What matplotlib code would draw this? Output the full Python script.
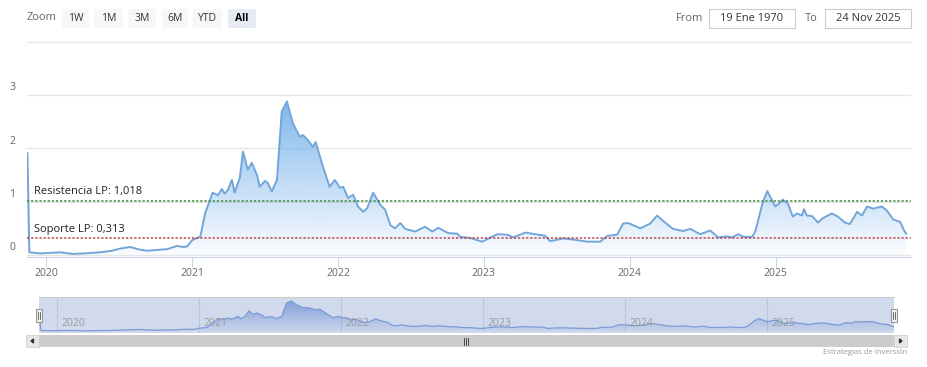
import matplotlib
matplotlib.use("Agg")
import matplotlib.pyplot as plt
import matplotlib.dates as mdates
import matplotlib.colors as mcolors
from matplotlib.patches import Rectangle, FancyBboxPatch
import numpy as np
import pandas as pd

plt.rcParams['font.family'] = ['Open Sans', 'DejaVu Sans']

dates = ["2019-11-15", "2019-11-20", "2019-12-17", "2020-02-05", "2020-03-08", "2020-04-07",
         "2020-05-15", "2020-06-14", "2020-07-04", "2020-07-29", "2020-08-23", "2020-09-10",
         "2020-10-12", "2020-10-30", "2020-11-24", "2020-12-09", "2020-12-19", "2021-01-01",
         "2021-01-13", "2021-01-21", "2021-02-02", "2021-02-14", "2021-02-21", "2021-03-06",
         "2021-03-16", "2021-03-23", "2021-03-31", "2021-04-10", "2021-04-17", "2021-04-30",
         "2021-05-08", "2021-05-20", "2021-05-30", "2021-06-12", "2021-06-19", "2021-07-02",
         "2021-07-09", "2021-07-19", "2021-08-01", "2021-08-13", "2021-08-26", "2021-09-10",
         "2021-09-27", "2021-10-05", "2021-10-17", "2021-10-30", "2021-11-06", "2021-11-24",
         "2021-12-11", "2021-12-24", "2022-01-06", "2022-01-14", "2022-01-26", "2022-02-08",
         "2022-02-20", "2022-03-05", "2022-03-15", "2022-03-30", "2022-04-17", "2022-04-29",
         "2022-05-12", "2022-05-24", "2022-06-06", "2022-06-18", "2022-07-13", "2022-08-07",
         "2022-08-25", "2022-09-09", "2022-10-04", "2022-10-27", "2022-11-03", "2022-11-28",
         "2022-12-28", "2023-01-10", "2023-02-04", "2023-03-01", "2023-03-16", "2023-04-15",
         "2023-05-22", "2023-06-04", "2023-06-16", "2023-07-19", "2023-08-13", "2023-09-17",
         "2023-10-20", "2023-11-06", "2023-12-01", "2023-12-16", "2023-12-29", "2024-01-28",
         "2024-02-22", "2024-03-10", "2024-03-25", "2024-04-19", "2024-05-14", "2024-06-01",
         "2024-06-26", "2024-07-21", "2024-08-10", "2024-09-02", "2024-09-14", "2024-09-29",
         "2024-10-12", "2024-11-03", "2024-11-11", "2024-11-29", "2024-12-11", "2024-12-31",
         "2025-01-12", "2025-01-19", "2025-02-01", "2025-02-13", "2025-02-23", "2025-03-08",
         "2025-03-13", "2025-03-20", "2025-04-02", "2025-04-17", "2025-04-29", "2025-05-22",
         "2025-06-06", "2025-06-23", "2025-07-06", "2025-07-24", "2025-08-05", "2025-08-18",
         "2025-09-02", "2025-09-24", "2025-10-07", "2025-10-22", "2025-11-09", "2025-11-18",
         "2025-11-24"]
values = [1.91, 0.05, 0.03, 0.05, 0.02, 0.03,
          0.05, 0.08, 0.12, 0.15, 0.10, 0.08,
          0.10, 0.11, 0.17, 0.15, 0.16, 0.28,
          0.32, 0.34, 0.78, 1.03, 1.17, 1.12,
          1.24, 1.15, 1.22, 1.41, 1.17, 1.45,
          1.94, 1.60, 1.73, 1.50, 1.28, 1.39,
          1.35, 1.19, 1.41, 2.69, 2.88, 2.47,
          2.22, 2.25, 2.16, 2.03, 2.12, 1.66,
          1.28, 1.41, 1.26, 1.28, 1.07, 1.13,
          0.91, 0.81, 0.88, 1.17, 0.94, 0.85,
          0.56, 0.50, 0.60, 0.49, 0.44, 0.53,
          0.44, 0.51, 0.41, 0.40, 0.34, 0.32,
          0.25, 0.30, 0.39, 0.38, 0.33, 0.42,
          0.375, 0.36, 0.26, 0.31, 0.29, 0.25,
          0.25, 0.36, 0.38, 0.59, 0.60, 0.50,
          0.59, 0.74, 0.64, 0.49, 0.45, 0.49,
          0.39, 0.46, 0.33, 0.35, 0.33, 0.39,
          0.34, 0.34, 0.44, 0.97, 1.20, 0.91,
          0.98, 1.04, 0.96, 0.72, 0.78, 0.74,
          0.86, 0.74, 0.73, 0.61, 0.69, 0.78,
          0.72, 0.61, 0.58, 0.81, 0.74, 0.91,
          0.87, 0.91, 0.83, 0.67, 0.62, 0.47,
          0.40]

resistencia = 1.018
soporte = 0.313
year_ticks = ["2020", "2021", "2022", "2023", "2024", "2025"]
y_ticks = [0, 1, 2, 3]
zoom_buttons = ["1W", "1M", "3M", "6M", "YTD", "All"]
date_from = "19 Ene 1970"
date_to = "24 Nov 2025"

W, H = 928, 367
x = pd.to_datetime(dates)
xn = mdates.date2num(x)


def box(x0, y0, x1, y1):
    return [x0 / W, 1 - y1 / H, (x1 - x0) / W, (y1 - y0) / H]


def gradient_area(ax, color, top, a0, a1, z):
    poly = ax.fill_between(x, values, 0, facecolor='none', edgecolor='none')
    grad = np.zeros((256, 1, 4))
    grad[..., :3] = mcolors.to_rgb(color)
    grad[:, 0, 3] = np.linspace(a0, a1, 256)
    im = ax.imshow(grad, extent=[xn[0], xn[-1], 0, top], origin='lower',
                   aspect='auto', zorder=z, interpolation='bilinear')
    im.set_clip_path(poly.get_paths()[0], transform=ax.transData)


fig = plt.figure(figsize=(W / 100, H / 100), dpi=100)

# main chart
ax = fig.add_axes(box(27, 40, 911, 257))
gradient_area(ax, '#7cb5ec', 3.0, 0.04, 1.0, 1)
ax.plot(x, values, color='#72a6db', lw=1.4, zorder=3)
ax.axhline(resistencia, color='#3d8b3d', lw=1.1, ls=(0, (1.5, 1.2)), zorder=4)
ax.axhline(soporte, color='#b8484f', lw=1.1, ls=(0, (1.5, 1.2)), zorder=4)
ax.text(mdates.date2num(pd.Timestamp("2019-12-02")), resistencia + 0.07,
        "Resistencia LP: 1,018", fontsize=8, color='#222', va='bottom', zorder=5)
ax.text(mdates.date2num(pd.Timestamp("2019-12-02")), soporte + 0.07,
        "Soporte LP: 0,313", fontsize=8, color='#222', va='bottom', zorder=5)
ax.set_xlim(pd.Timestamp("2019-11-14"), pd.Timestamp("2025-12-06"))
ax.set_ylim(-0.0375, 4.034)
for v in [0, 1, 2, 3, 4]:
    ax.axhline(v, color='#e6e6e6', lw=1, zorder=0)
ax.set_yticks([])
for v in y_ticks:
    ax.annotate(str(v), xy=(9, v), xycoords=('figure pixels', 'data'),
                xytext=(0, 1.2), textcoords='offset points',
                fontsize=7.5, color='#666', va='bottom', ha='left')
ax.set_xticks([pd.Timestamp(t + "-01-01") for t in year_ticks])
ax.set_xticklabels(year_ticks, fontsize=7.5, color='#666')
ax.tick_params(axis='x', length=7, color='#ccd6eb', pad=1)
for s in ['top', 'left', 'right']:
    ax.spines[s].set_visible(False)
ax.spines['bottom'].set_color('#ccd6eb')
ax.set_facecolor('none')

# navigator
nav = fig.add_axes(box(39, 297, 894, 333))
nav.set_facecolor('#d1daed')
gradient_area(nav, '#6a8fd4', 3.0, 0.08, 0.8, 1)
nav.plot(x, values, color='#7b9bd6', lw=0.9, zorder=3)
nav.set_xlim(xn[0], xn[-1])
nav.set_ylim(-0.19, 3.27)
for t in year_ticks:
    d = pd.Timestamp(t + "-01-01")
    nav.axvline(d, color='#bcc5dc', lw=0.8, zorder=0.5)
    nav.annotate(t, xy=(d, 0), xycoords=('data', 'axes fraction'),
                 xytext=(3, 3), textcoords='offset points',
                 fontsize=7.5, color='#999', ha='left', va='bottom')
nav.set_xticks([])
nav.set_yticks([])
for s in nav.spines.values():
    s.set_visible(False)
nav.spines['top'].set_visible(True)
nav.spines['top'].set_color('#cccccc')

# overlay in pixel coords for UI pieces
ov = fig.add_axes([0, 0, 1, 1])
ov.set_xlim(0, W)
ov.set_ylim(H, 0)
ov.axis('off')
ov.patch.set_visible(False)

ov.text(27, 18, "Zoom", fontsize=8, color='#666', va='center', ha='left')
bx = [62, 94, 128, 162, 193, 228]
bw = [27, 29, 28, 26, 29, 28]
for lab, b, w in zip(zoom_buttons, bx, bw):
    sel = lab == "All"
    ov.add_patch(FancyBboxPatch((b, 9), w, 19, boxstyle="round,pad=0,rounding_size=2",
                                facecolor='#e6ebf5' if sel else '#f7f7f7',
                                edgecolor='none'))
    ov.text(b + w / 2, 18.5, lab, fontsize=7.5, color='#000' if sel else '#333',
            fontweight='bold' if sel else 'normal', ha='center', va='center')

ov.text(703, 18.5, "From", fontsize=8, color='#666', ha='right', va='center')
ov.add_patch(Rectangle((709, 9), 86, 19, facecolor='white', edgecolor='#cccccc', lw=0.8))
ov.text(752, 18.5, date_from, fontsize=8, color='#333', ha='center', va='center')
ov.text(818, 18.5, "To", fontsize=8, color='#666', ha='right', va='center')
ov.add_patch(Rectangle((825, 9), 86, 19, facecolor='white', edgecolor='#cccccc', lw=0.8))
ov.text(868, 18.5, date_to, fontsize=8, color='#333', ha='center', va='center')

# navigator handles
for hx in [36, 891]:
    ov.add_patch(Rectangle((hx, 309), 6, 13, facecolor='#f2f2f2', edgecolor='#999999', lw=0.8))
    ov.plot([hx + 2.3, hx + 2.3], [312, 319], color='#333', lw=0.5)
    ov.plot([hx + 3.7, hx + 3.7], [312, 319], color='#333', lw=0.5)

# scrollbar
ov.add_patch(Rectangle((26, 335), 881, 12, facecolor='#f2f2f2', edgecolor='none'))
ov.add_patch(Rectangle((39, 335), 855, 12, facecolor='#cccccc', edgecolor='none'))
ov.add_patch(Rectangle((26, 335), 13, 12, facecolor='#e6e6e6', edgecolor='#cccccc', lw=0.5))
ov.add_patch(Rectangle((894, 335), 13, 12, facecolor='#e6e6e6', edgecolor='#cccccc', lw=0.5))
ov.fill([33.5, 31, 33.5], [339, 341, 343], color='#333')
ov.fill([899.5, 902, 899.5], [339, 341, 343], color='#333')
for gx in [464.5, 466.5, 468.5]:
    ov.plot([gx, gx], [337.5, 344.5], color='#333', lw=0.6)

ov.text(907, 352, "Estrategias de Inversión", fontsize=5.5, color='#999',
        ha='right', va='center')

fig.savefig("out.png", dpi=100)
